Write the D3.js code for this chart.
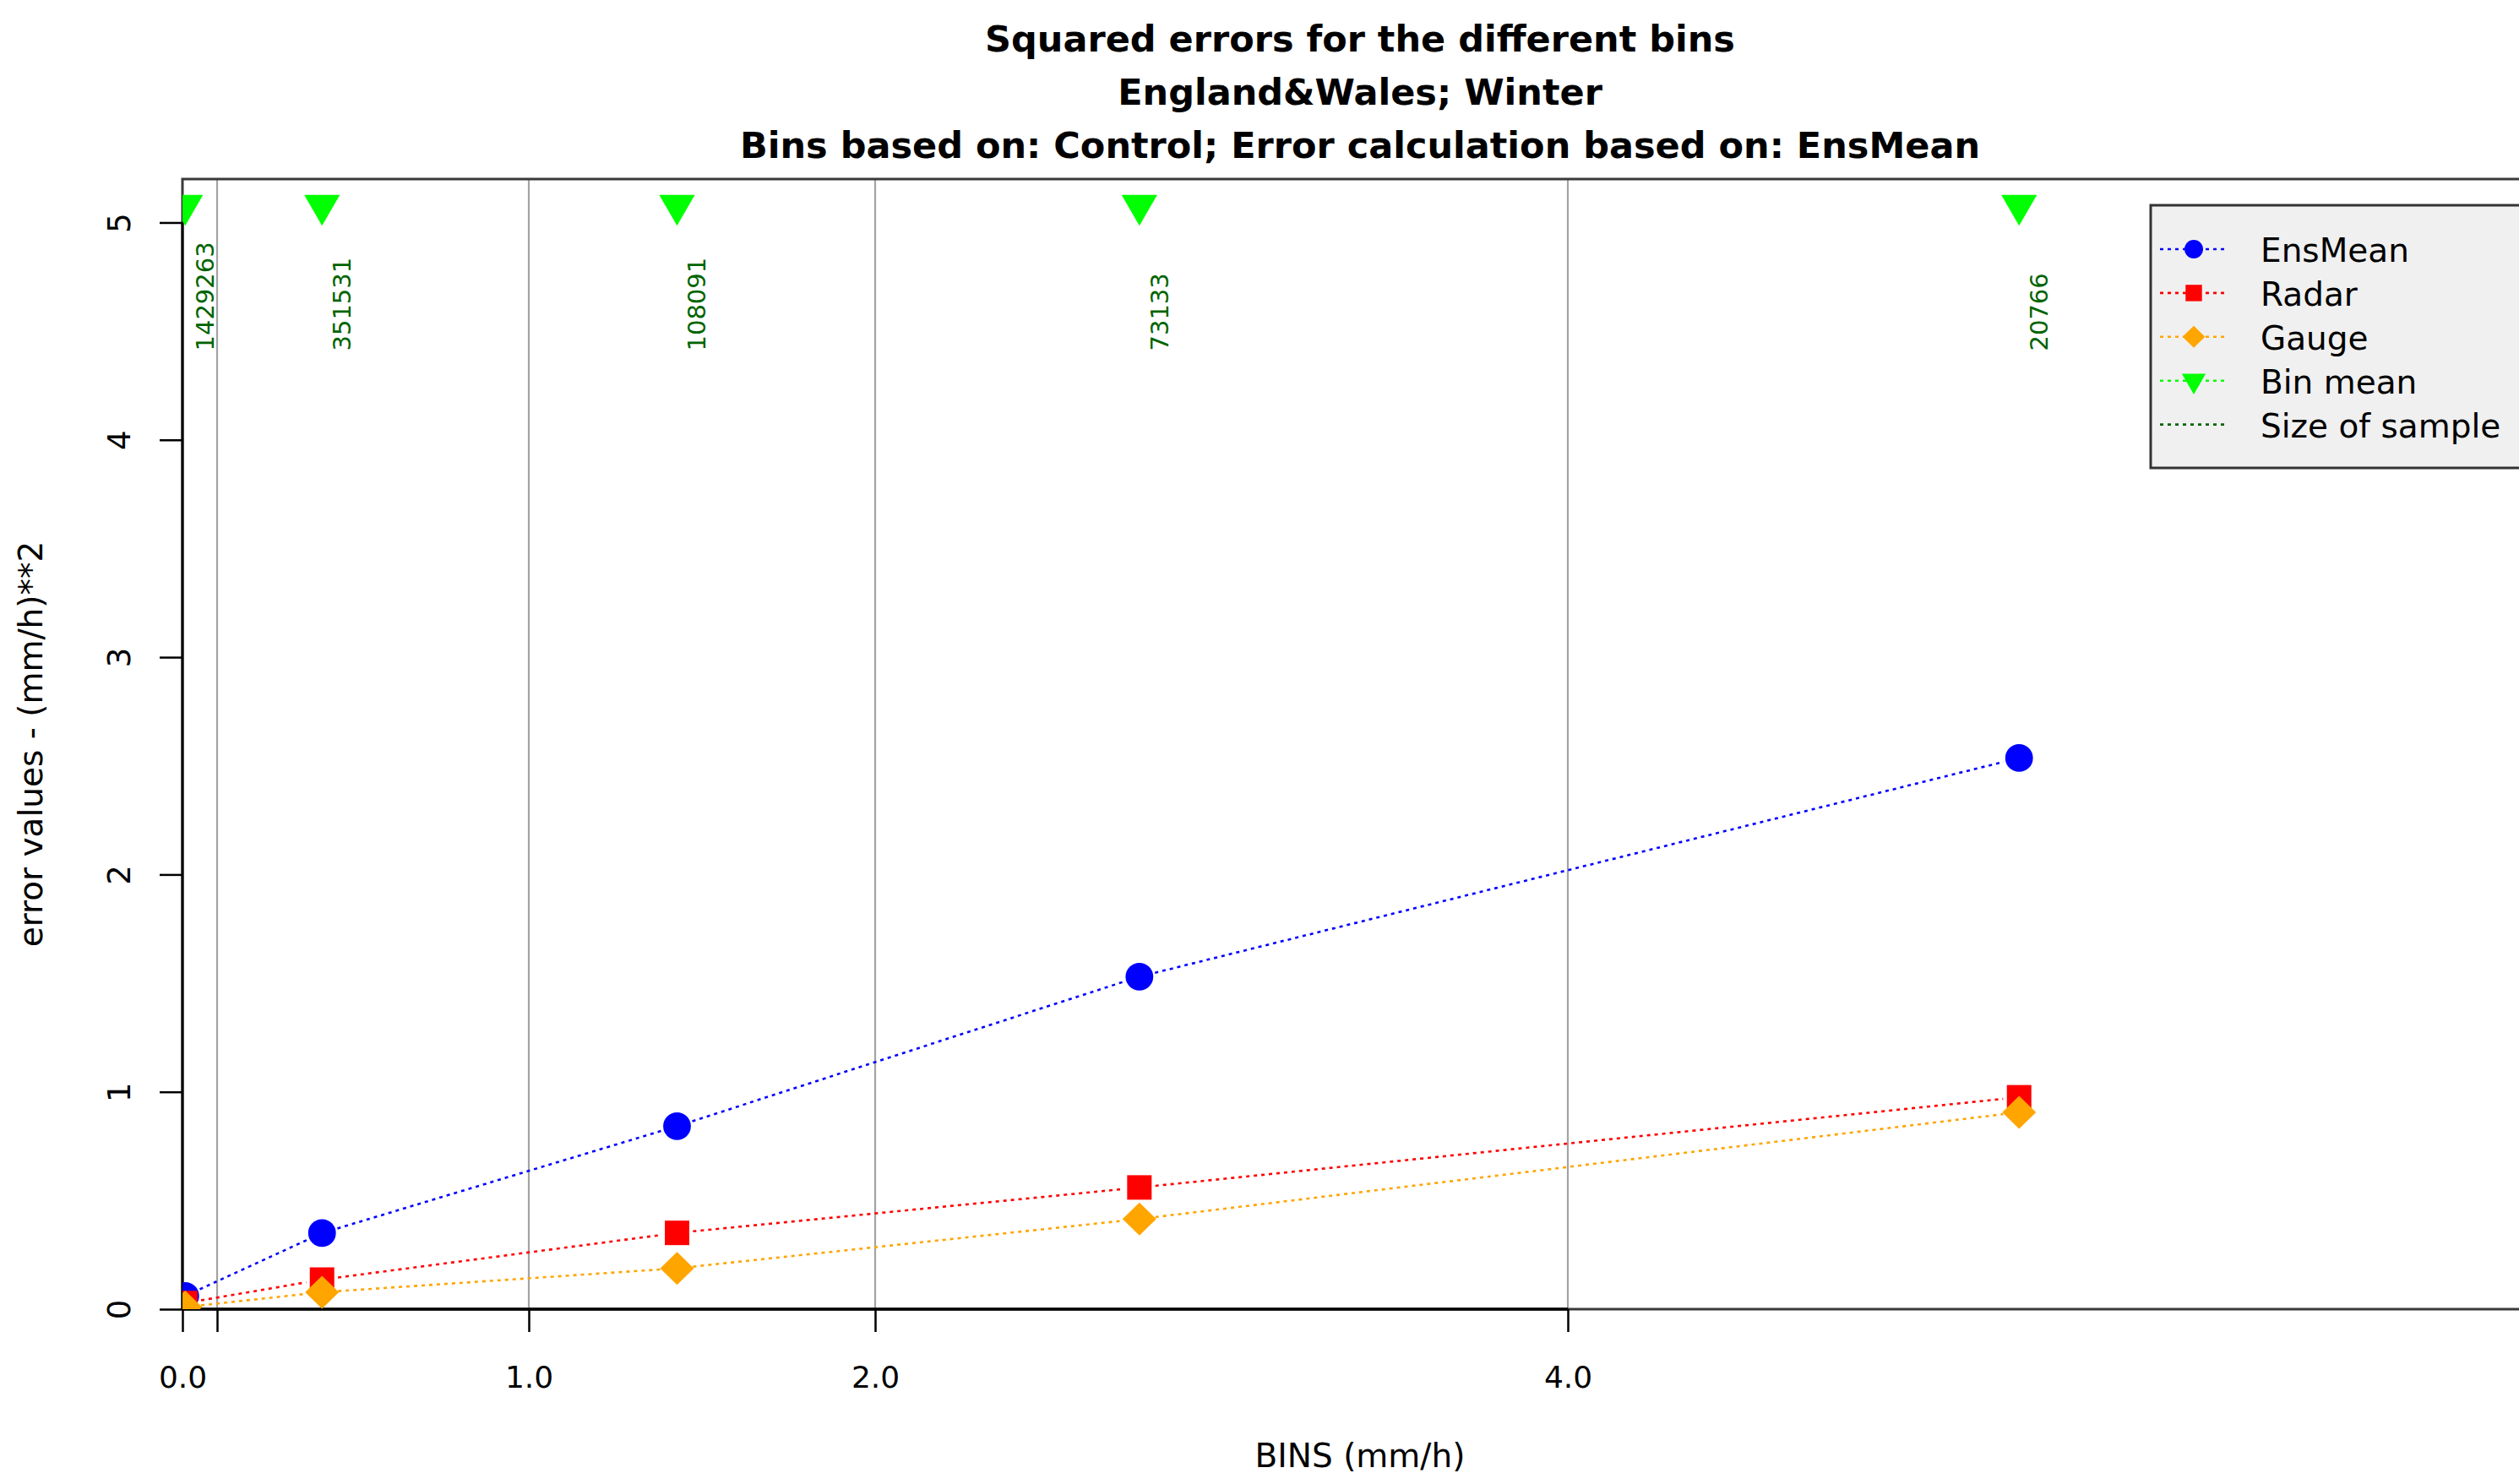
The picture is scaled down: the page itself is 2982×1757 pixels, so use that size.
<!DOCTYPE html>
<html>
<head>
<meta charset="utf-8">
<script src="https://cdn.jsdelivr.net/npm/d3@7"></script>
<style>
  html, body { margin: 0; padding: 0; background: #ffffff; }
  svg { display: block; }
  text { font-family: "DejaVu Sans", sans-serif; fill: #000; }
</style>
</head>
<body>
<svg id="chart" width="2982" height="1757"></svg>
<script>
// ---- data ----
const binMeans    = [0.008, 0.403, 1.428, 2.763, 5.303];   // mm/h, mean of each bin
const ensMean     = [0.061, 0.350, 0.842, 1.530, 2.536];
const radar       = [0.028, 0.136, 0.351, 0.560, 0.975];
const gauge       = [0.010, 0.078, 0.188, 0.415, 0.906];
const sampleSizes = [1429263, 351531, 108091, 73133, 20766];
const binEdges    = [0.1, 1, 2, 4];
const binMarkerLevel = 5.08;                               // height where bin means are flagged
const xTicks      = [0, 0.1, 1, 2, 4];
const xTickLabels = ["0.0", "", "1.0", "2.0", "4.0"];
const yTicks      = [0, 1, 2, 3, 4, 5];
const titleLines  = [
  "Squared errors for the different bins",
  "England&Wales; Winter",
  "Bins based on: Control; Error calculation based on: EnsMean"
];
const legendLabels = ["EnsMean", "Radar", "Gauge", "Bin mean", "Size of sample"];

// ---- layout ----
const svg = d3.select("#chart");
const plot = { left: 216, right: 3004, top: 212, bottom: 1550 };
const x = d3.scaleLinear().domain([0, 6.8]).range([plot.left, plot.right]);
const y = d3.scaleLinear().domain([0, 5.2]).range([plot.bottom, plot.top]);

const colors = { ens: "#0000ff", radar: "#ff0000", gauge: "#ffa500", bin: "#00ff00", sample: "#006400" };
const dash = "4 5";

// marker shapes (centered at 0,0), s = scale factor
const shapes = {
  circle:  s => { const r = 16.4 * s; return `M${r},0A${r},${r} 0 1,1 ${-r},0A${r},${r} 0 1,1 ${r},0Z`; },
  square:  s => { const h = 14.5 * s; return `M${-h},${-h}H${h}V${h}H${-h}Z`; },
  diamond: s => { const h = 20 * s, v = 19.5 * s; return `M0,${-v}L${h},0L0,${v}L${-h},0Z`; },
  triDown: s => { const r = 24.4 * s, w = 21.1 * s; return `M0,${r}L${w},${-r / 2}L${-w},${-r / 2}Z`; }
};

svg.append("defs").append("clipPath").attr("id", "plotClip")
  .append("rect")
  .attr("x", plot.left).attr("y", plot.top)
  .attr("width", plot.right - plot.left).attr("height", plot.bottom - plot.top);

// ---- title ----
svg.append("g").selectAll("text").data(titleLines).join("text")
  .attr("x", (plot.left + plot.right) / 2)
  .attr("y", (d, i) => 61 + i * 62.8)
  .attr("text-anchor", "middle")
  .style("font-weight", "bold")
  .style("font-size", "43px")
  .text(d => d);

// ---- bin boundaries ----
svg.append("g").selectAll("line").data(binEdges).join("line")
  .attr("x1", d => x(d)).attr("x2", d => x(d))
  .attr("y1", plot.top).attr("y2", plot.bottom)
  .attr("stroke", "#a3a3a3").attr("stroke-width", 2.2);

// ---- plot frame ----
svg.append("rect")
  .attr("x", plot.left).attr("y", plot.top)
  .attr("width", plot.right - plot.left).attr("height", plot.bottom - plot.top)
  .attr("fill", "none").attr("stroke", "#3a3a3a").attr("stroke-width", 3);

// ---- axes ----
const xAxis = d3.axisBottom(x).tickValues(xTicks)
  .tickFormat((d, i) => xTickLabels[i]).tickSize(27).tickSizeOuter(0);
const gx = svg.append("g").attr("transform", `translate(0,${plot.bottom})`).call(xAxis);
gx.select(".domain").remove();
gx.selectAll(".tick line").attr("stroke", "#000").attr("stroke-width", 2.5);
gx.selectAll(".tick text").attr("y", 93).attr("dy", null)
  .style("font-size", "36px").style("font-family", "DejaVu Sans, sans-serif").attr("fill", "#000");
gx.append("line")
  .attr("x1", x(xTicks[0])).attr("x2", x(xTicks[xTicks.length - 1]))
  .attr("y1", 0).attr("y2", 0).attr("stroke", "#000").attr("stroke-width", 3.5);

const yAxis = d3.axisLeft(y).tickValues(yTicks).tickFormat(d3.format("d")).tickSize(27).tickSizeOuter(0);
const gy = svg.append("g").attr("transform", `translate(${plot.left},0)`).call(yAxis);
gy.select(".domain").remove();
gy.selectAll(".tick line").attr("stroke", "#000").attr("stroke-width", 2.5);
gy.selectAll(".tick text")
  .attr("x", null).attr("dy", null)
  .attr("transform", "translate(-62,0) rotate(-90)")
  .attr("text-anchor", "middle")
  .style("font-size", "37px").style("font-family", "DejaVu Sans, sans-serif").attr("fill", "#000");
gy.append("line")
  .attr("x1", 0).attr("x2", 0)
  .attr("y1", y(yTicks[0])).attr("y2", y(yTicks[yTicks.length - 1]))
  .attr("stroke", "#000").attr("stroke-width", 3);

// axis titles
svg.append("text")
  .attr("x", (plot.left + plot.right) / 2).attr("y", 1737)
  .attr("text-anchor", "middle").style("font-size", "39px")
  .text("BINS (mm/h)");
svg.append("text")
  .attr("transform", `translate(50,${(plot.top + plot.bottom) / 2}) rotate(-90)`)
  .attr("text-anchor", "middle").style("font-size", "39px")
  .text("error values - (mm/h)**2");

// ---- series ----
const layer = svg.append("g").attr("clip-path", "url(#plotClip)");
const gap = 19;
const lineGen = d3.line();

function drawSeries(values, color, shape) {
  const pts = binMeans.map((b, i) => [x(b), y(values[i])]);
  // dotted connectors, left open around each marker
  for (let i = 0; i < pts.length - 1; i++) {
    const [x1, y1] = pts[i], [x2, y2] = pts[i + 1];
    const len = Math.hypot(x2 - x1, y2 - y1);
    if (len <= 2 * gap) continue;
    const ux = (x2 - x1) / len, uy = (y2 - y1) / len;
    layer.append("path")
      .attr("d", lineGen([[x1 + ux * gap, y1 + uy * gap], [x2 - ux * gap, y2 - uy * gap]]))
      .attr("fill", "none").attr("stroke", color)
      .attr("stroke-width", 2.6).attr("stroke-dasharray", dash);
  }
  layer.append("g").selectAll("path").data(pts).join("path")
    .attr("transform", d => `translate(${d[0]},${d[1]})`)
    .attr("d", shapes[shape](1))
    .attr("fill", color);
}

drawSeries(ensMean, colors.ens, "circle");
drawSeries(radar, colors.radar, "square");
drawSeries(gauge, colors.gauge, "diamond");

// bin mean flags along the top
layer.append("g").selectAll("path").data(binMeans).join("path")
  .attr("transform", d => `translate(${x(d)},${y(binMarkerLevel)})`)
  .attr("d", shapes.triDown(1))
  .attr("fill", colors.bin);

// sample sizes, written upward under each flag
svg.append("g").selectAll("text").data(sampleSizes).join("text")
  .attr("transform", (d, i) => `translate(${x(binMeans[i]) + 34},415.5) rotate(-90)`)
  .attr("text-anchor", "start")
  .style("font-size", "29px")
  .attr("fill", colors.sample).style("fill", colors.sample)
  .text(d => d);

// ---- legend ----
const legend = svg.append("g");
legend.append("rect")
  .attr("x", 2546).attr("y", 243).attr("width", 520).attr("height", 311)
  .attr("fill", "#f0f0f0").attr("stroke", "#333").attr("stroke-width", 3);

const legendRows = [
  { label: legendLabels[0], color: colors.ens,    shape: "circle" },
  { label: legendLabels[1], color: colors.radar,  shape: "square" },
  { label: legendLabels[2], color: colors.gauge,  shape: "diamond" },
  { label: legendLabels[3], color: colors.bin,    shape: "triDown" },
  { label: legendLabels[4], color: colors.sample, shape: null }
];
const row = legend.selectAll("g.row").data(legendRows).join("g")
  .attr("class", "row")
  .attr("transform", (d, i) => `translate(0,${295 + i * 51.9})`);
row.append("line")
  .attr("x1", 2557).attr("x2", 2637).attr("y1", 0).attr("y2", 0)
  .attr("stroke", d => d.color).attr("stroke-width", 2.6).attr("stroke-dasharray", dash);
row.filter(d => d.shape).append("path")
  .attr("transform", "translate(2597,0)")
  .attr("d", d => shapes[d.shape](0.67))
  .attr("fill", d => d.color);
row.append("text")
  .attr("x", 2676).attr("y", 15)
  .style("font-size", "39px")
  .text(d => d.label);
</script>
</body>
</html>
